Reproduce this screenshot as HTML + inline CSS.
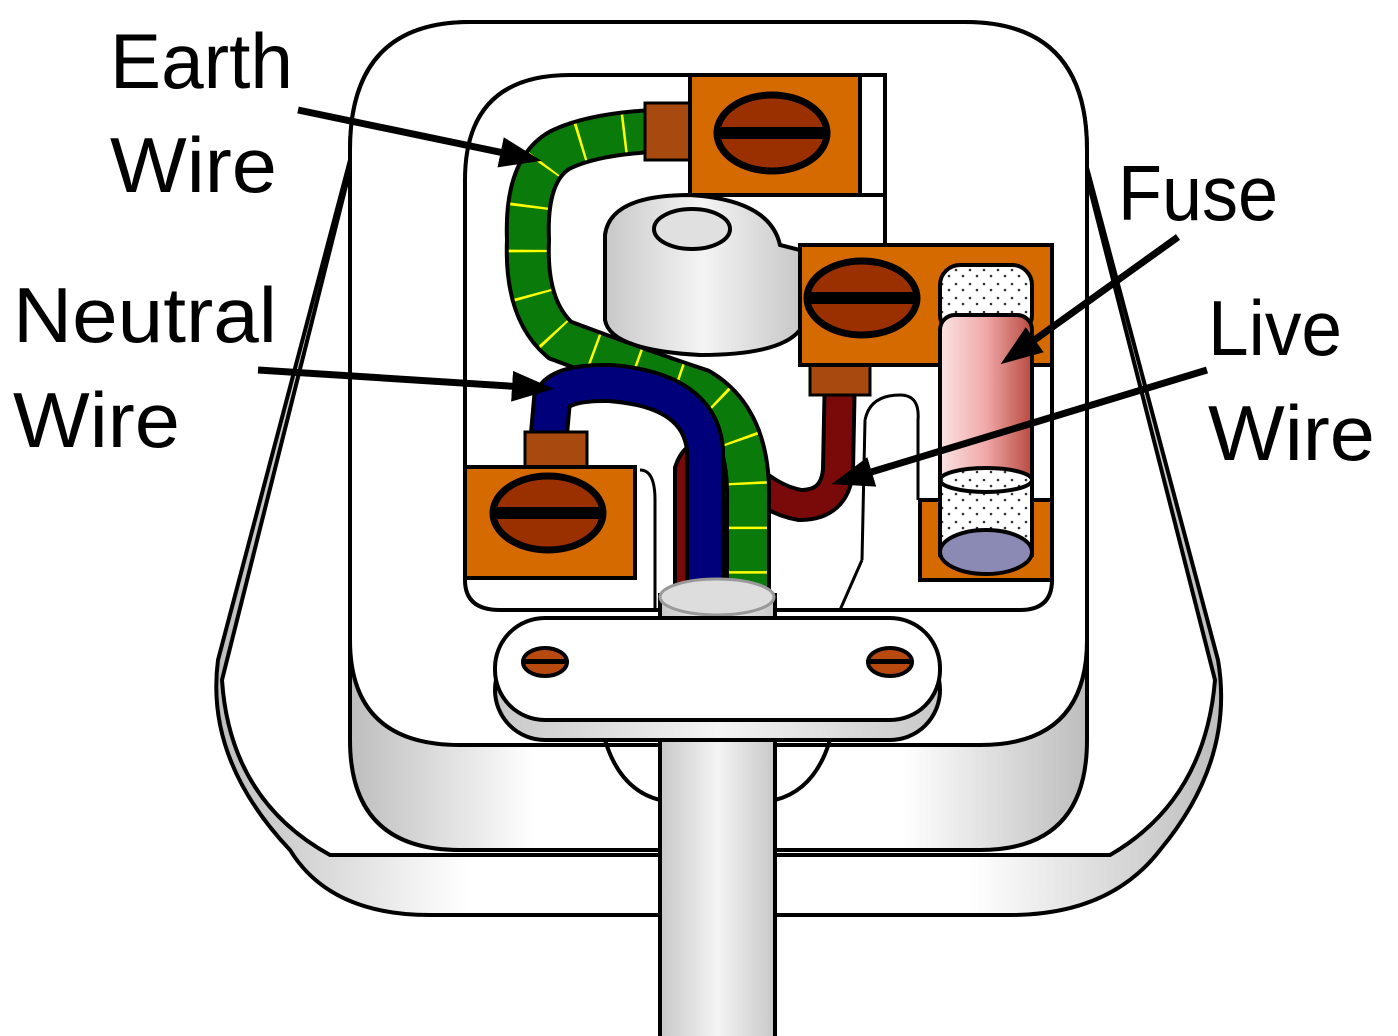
<!DOCTYPE html>
<html><head><meta charset="utf-8"><style>html,body{margin:0;padding:0;background:#fff}svg{display:block}</style></head><body>
<svg width="1398" height="1036" viewBox="0 0 1398 1036" xmlns="http://www.w3.org/2000/svg">
<defs>
<linearGradient id="g1" x1="0" x2="1"><stop offset="0" stop-color="#bdbdbd"/><stop offset="0.25" stop-color="#fff"/><stop offset="0.75" stop-color="#fff"/><stop offset="1" stop-color="#bdbdbd"/></linearGradient>
<linearGradient id="cab" x1="0" x2="1"><stop offset="0" stop-color="#c8c8c8"/><stop offset="0.5" stop-color="#f4f4f4"/><stop offset="1" stop-color="#c8c8c8"/></linearGradient>
<linearGradient id="fz" x1="0" x2="1"><stop offset="0" stop-color="#fbe3e3"/><stop offset="0.5" stop-color="#f0a8a8"/><stop offset="1" stop-color="#b84a40"/></linearGradient>
<pattern id="dots" width="14" height="14" patternUnits="userSpaceOnUse"><rect width="14" height="14" fill="#fff"/><circle cx="4" cy="4" r="1.3" fill="#333"/><circle cx="11" cy="10" r="1.3" fill="#333"/></pattern>
<marker id="ah" markerWidth="6" markerHeight="6" refX="4" refY="3" orient="auto" markerUnits="strokeWidth"><path d="M0,0.8 L6,3 L0,5.2 z" fill="#000"/></marker>
</defs>
<path d="M350,160 L218,660 Q205,760 290,850 Q330,915 430,915 L1010,915 Q1110,915 1160,850 Q1235,760 1218,660 L1085,160 Z" fill="url(#g1)" stroke="#000" stroke-width="4"/>
<path d="M350,170 L222,680 Q230,800 330,855 L1110,855 Q1205,800 1215,680 L1085,170 Z" fill="#fff" stroke="#000" stroke-width="4"/>
<path d="M350,150 Q350,22 470,22 L965,22 Q1087,22 1087,150 L1087,740 Q1087,850 980,850 L460,850 Q350,850 350,740 Z" fill="url(#g1)" stroke="#000" stroke-width="4"/>
<path d="M350,150 Q350,22 470,22 L965,22 Q1087,22 1087,150 L1087,640 Q1087,745 980,745 L460,745 Q350,745 350,640 Z" fill="#fff" stroke="#000" stroke-width="4"/>
<path d="M465,180 Q465,75 570,75 L885,75 L885,245 L1052,245 L1052,580 Q1052,610 1020,610 L500,610 Q465,610 465,580 Z" fill="#fff" stroke="#000" stroke-width="4"/>
<path d="M605,235 Q610,195 690,195 Q770,200 780,245 L800,250 L800,330 Q780,355 700,355 Q610,350 605,320 Z" fill="url(#cab)" stroke="#000" stroke-width="4"/>
<ellipse cx="692" cy="229" rx="38" ry="20" fill="#e0e0e0" stroke="#000" stroke-width="4"/>
<path d="M640,470 Q655,470 655,500 L655,610" fill="none" stroke="#000" stroke-width="3"/>
<path d="M865,420 Q870,395 900,395 Q920,395 918,420 L918,500 M862,560 L840,610 M865,420 L862,560" fill="none" stroke="#000" stroke-width="3"/>
<path d="M840,370 L838,470 Q835,505 800,505 Q770,500 740,470 Q700,440 690,470 L690,590" fill="none" stroke="#000" stroke-width="34"/>
<path d="M840,370 L838,470 Q835,505 800,505 Q770,500 740,470 Q700,440 690,470 L690,590" fill="none" stroke="#7a0a0a" stroke-width="26"/>
<path d="M690,130 Q600,130 560,150 Q525,170 528,240 Q525,310 560,340 Q640,370 700,390 Q750,420 748,500 L748,590" fill="none" stroke="#000" stroke-width="46"/>
<path d="M690,130 Q600,130 560,150 Q525,170 528,240 Q525,310 560,340 Q640,370 700,390 Q750,420 748,500 L748,590" fill="none" stroke="#0a7a0a" stroke-width="38"/>
<path d="M690,130 Q600,130 560,150 Q525,170 528,240 Q525,310 560,340 Q640,370 700,390 Q750,420 748,500 L748,590" fill="none" stroke="#ffff00" stroke-width="38" stroke-dasharray="2.5 42" stroke-dashoffset="-20"/>
<path d="M548,445 L552,400 Q560,382 610,383 Q700,390 705,450 L705,590" fill="none" stroke="#000" stroke-width="40"/>
<path d="M548,445 L552,400 Q560,382 610,383 Q700,390 705,450 L705,590" fill="none" stroke="#00007a" stroke-width="32"/>
<rect x="645" y="103" width="45" height="57" fill="#a84a10" stroke="#000" stroke-width="3"/>
<rect x="690" y="75" width="170" height="120" fill="#d46a00" stroke="#000" stroke-width="4"/>
<rect x="860" y="75" width="25" height="120" fill="#fff" stroke="#000" stroke-width="4"/>
<ellipse cx="772" cy="133" rx="55" ry="38" fill="#9a3000" stroke="#000" stroke-width="7"/>
<rect x="718" y="127" width="108" height="12" fill="#000"/>
<rect x="525" y="432" width="62" height="35" fill="#a84a10" stroke="#000" stroke-width="3"/>
<rect x="465" y="467" width="170" height="111" fill="#d46a00" stroke="#000" stroke-width="4"/>
<ellipse cx="548" cy="513" rx="55" ry="37" fill="#9a3000" stroke="#000" stroke-width="7"/>
<rect x="494" y="507" width="108" height="12" fill="#000"/>
<rect x="810" y="365" width="60" height="30" fill="#a84a10" stroke="#000" stroke-width="3"/>
<rect x="800" y="245" width="252" height="120" fill="#d46a00" stroke="#000" stroke-width="4"/>
<ellipse cx="862" cy="298" rx="55" ry="37" fill="#9a3000" stroke="#000" stroke-width="7"/>
<rect x="808" y="292" width="108" height="12" fill="#000"/>
<rect x="920" y="500" width="132" height="80" fill="#d46a00" stroke="#000" stroke-width="4"/>
<rect x="940" y="265" width="92" height="70" rx="20" fill="url(#dots)" stroke="#000" stroke-width="4"/>
<rect x="940" y="315" width="92" height="180" rx="15" fill="url(#fz)" stroke="#000" stroke-width="4"/>
<rect x="940" y="480" width="92" height="75" fill="url(#dots)" stroke="#000" stroke-width="4"/>
<ellipse cx="986" cy="480" rx="46" ry="12" fill="url(#dots)" stroke="#000" stroke-width="4"/>
<ellipse cx="986" cy="552" rx="46" ry="22" fill="#8a8ab4" stroke="#000" stroke-width="4"/>
<rect x="660" y="595" width="115" height="445" fill="url(#cab)" stroke="#000" stroke-width="4"/>
<ellipse cx="717" cy="597" rx="57" ry="18" fill="#ddd" stroke="#999" stroke-width="3"/>
<path d="M605,740 Q620,790 660,800 M775,800 Q815,790 830,740" fill="none" stroke="#000" stroke-width="4"/>
<rect x="495" y="640" width="445" height="100" rx="50" fill="url(#cab)" stroke="#000" stroke-width="4"/>
<rect x="495" y="618" width="445" height="102" rx="50" fill="#fff" stroke="#000" stroke-width="4"/>
<ellipse cx="545" cy="662" rx="22" ry="14" fill="#b84a10" stroke="#000" stroke-width="4"/>
<rect x="525" y="659" width="40" height="5" fill="#000"/>
<ellipse cx="890" cy="662" rx="22" ry="14" fill="#b84a10" stroke="#000" stroke-width="4"/>
<rect x="870" y="659" width="40" height="5" fill="#000"/>
<g stroke="#000" stroke-width="7" marker-end="url(#ah)">
<line x1="298" y1="110" x2="528" y2="158"/>
<line x1="258" y1="370" x2="540" y2="388"/>
<line x1="1178" y1="237" x2="1012" y2="356"/>
<line x1="1207" y1="370" x2="845" y2="480"/>
</g>
<g font-family="Liberation Sans, sans-serif" font-size="78" fill="#000" lengthAdjust="spacingAndGlyphs">
<text x="110" y="88" textLength="183" lengthAdjust="spacingAndGlyphs">Earth</text>
<text x="110" y="192" textLength="167" lengthAdjust="spacingAndGlyphs">Wire</text>
<text x="13" y="342" textLength="264" lengthAdjust="spacingAndGlyphs">Neutral</text>
<text x="13" y="447" textLength="167" lengthAdjust="spacingAndGlyphs">Wire</text>
<text x="1118" y="220" textLength="160" lengthAdjust="spacingAndGlyphs">Fuse</text>
<text x="1208" y="355" textLength="134" lengthAdjust="spacingAndGlyphs">Live</text>
<text x="1208" y="460" textLength="167" lengthAdjust="spacingAndGlyphs">Wire</text>
</g>
</svg>
</body></html>
